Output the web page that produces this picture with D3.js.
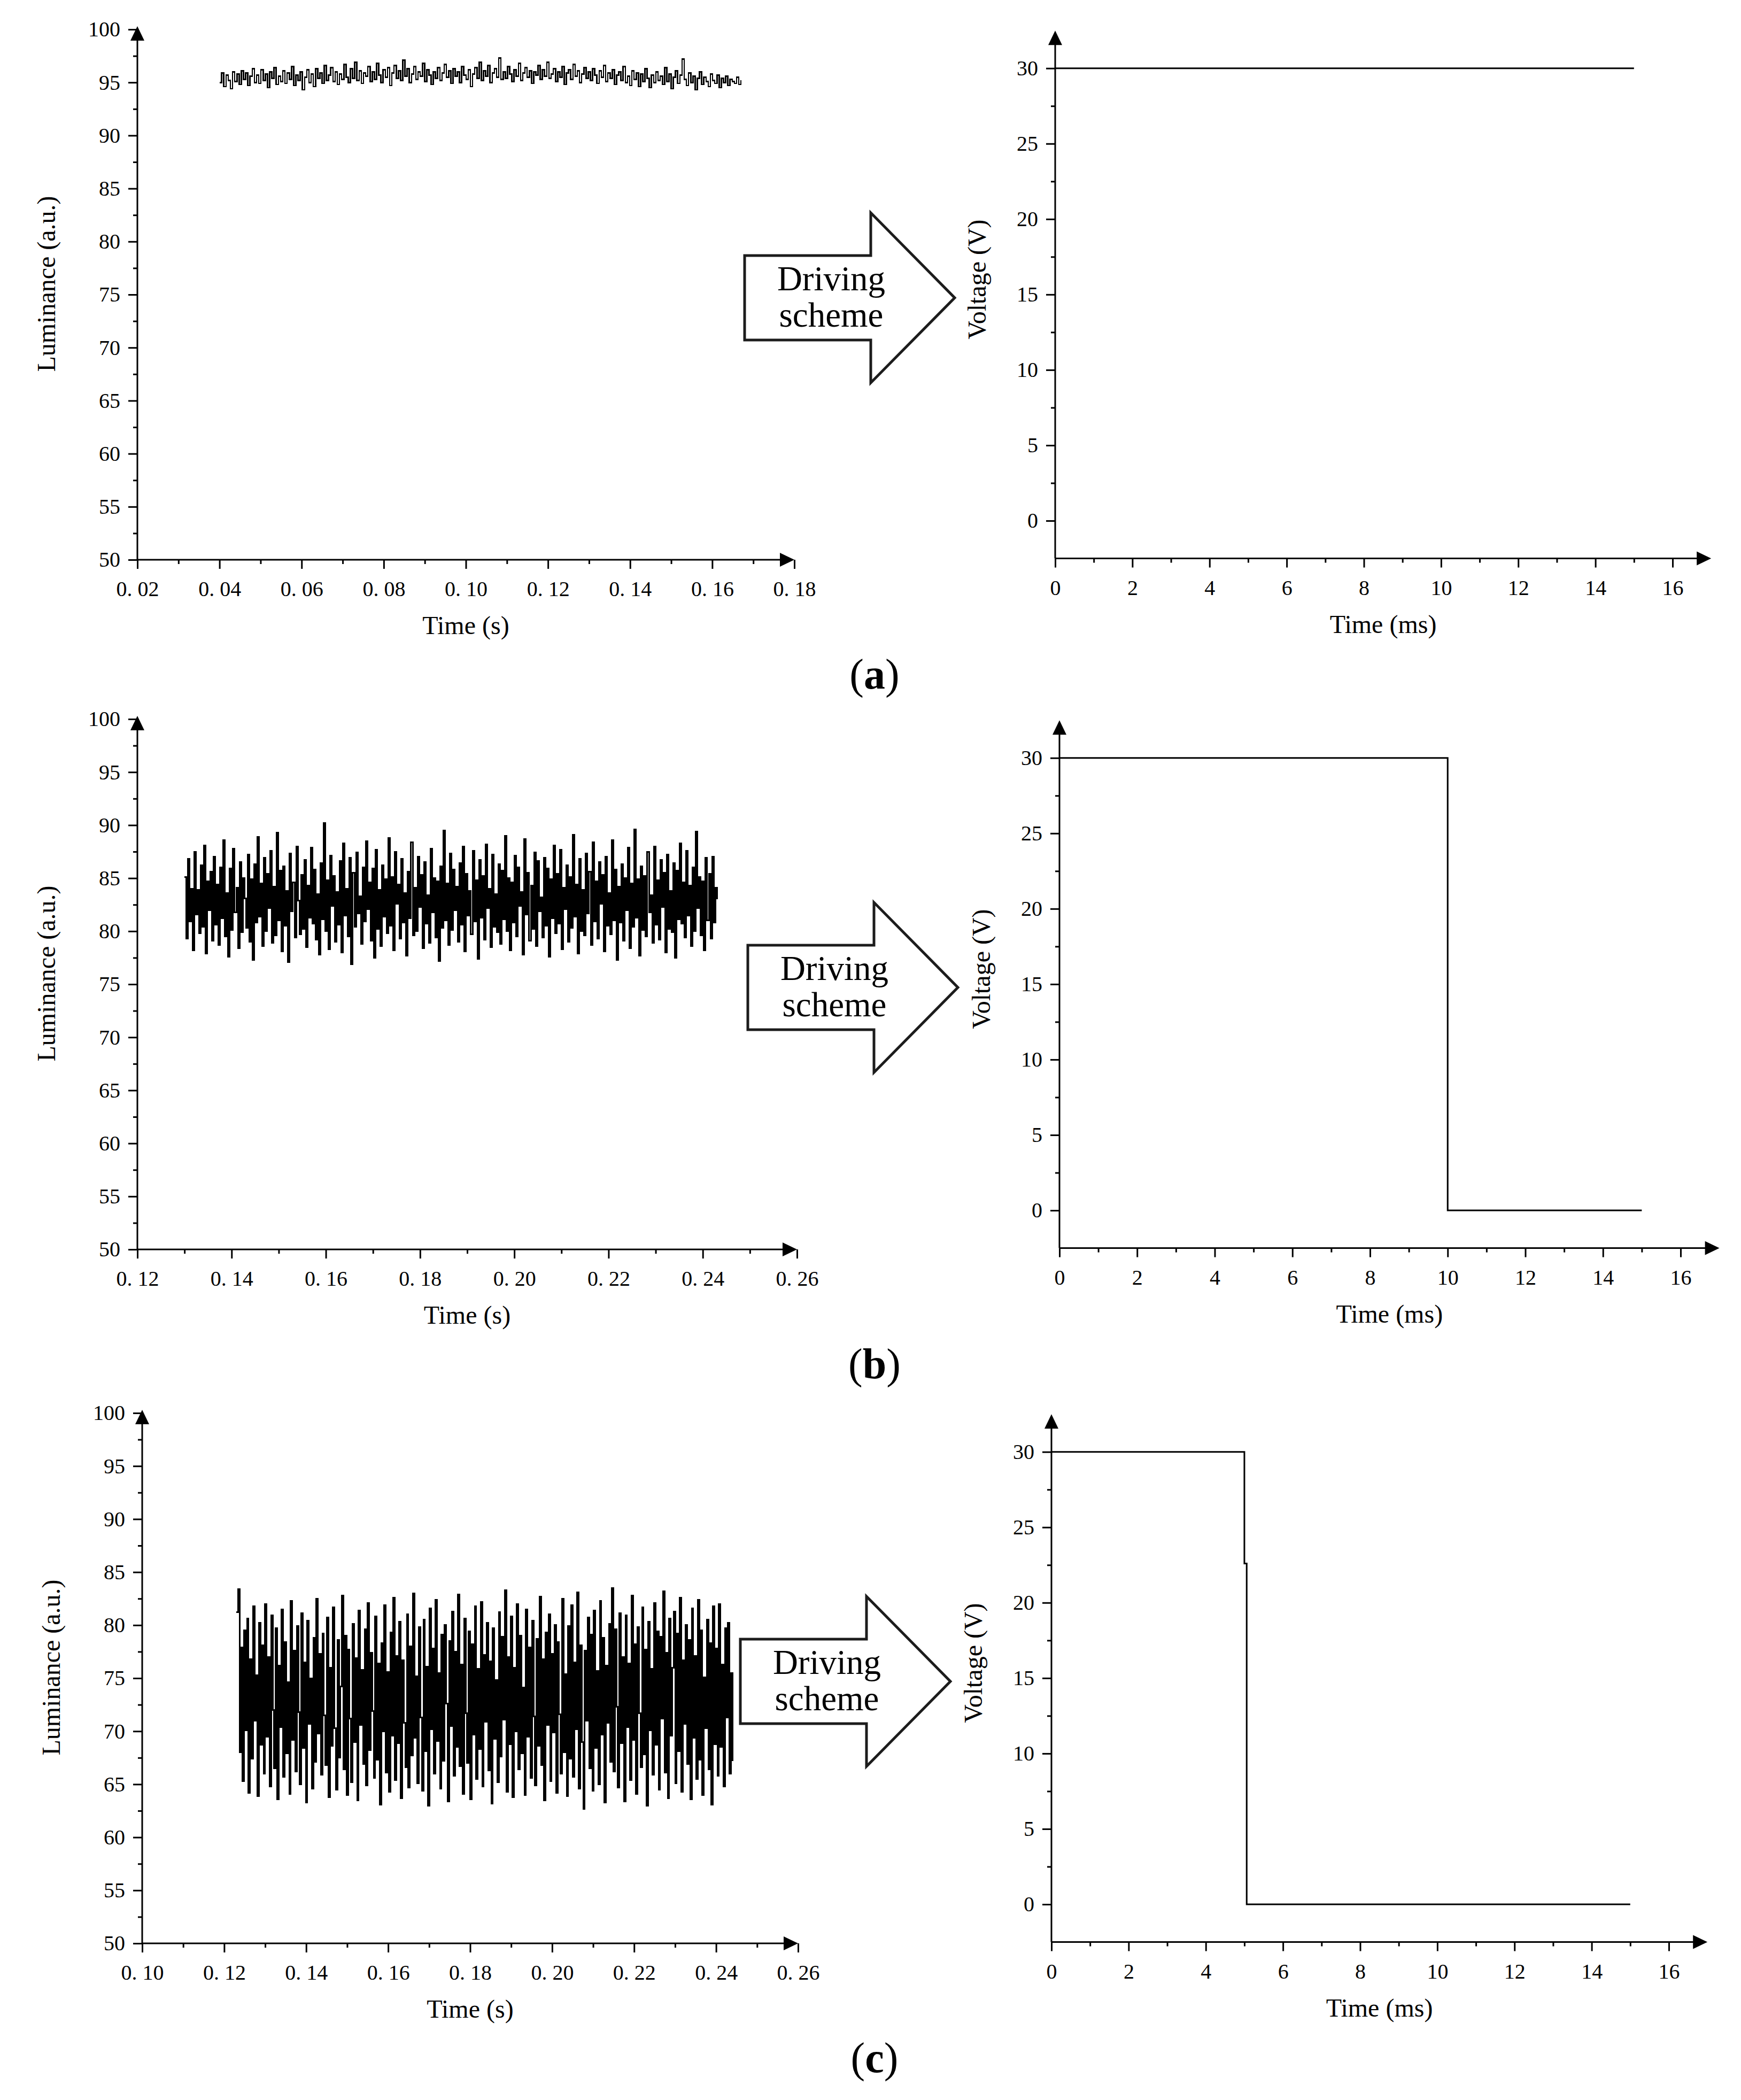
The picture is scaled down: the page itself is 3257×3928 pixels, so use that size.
<!DOCTYPE html>
<html lang="en">
<head>
<meta charset="UTF-8">
<script src="https://cdn.jsdelivr.net/npm/d3@7"></script>
<title>Luminance and driving scheme</title>
<style>
  body { margin: 0; background: #fff; }
  text { font-family: "Liberation Serif", "Times New Roman", serif; fill: #000; }
</style>
</head>
<body>
<svg width="3257" height="3928"></svg>
<script>
// ---- data ----
// luminance samples (a.u.), evenly spaced between the first and last sample time
var lumA = [
  95.0,95.9,94.6,95.7,95.2,94.4,96.0,95.1,95.8,94.8, 96.1,95.3,95.9,94.7,95.6,96.3,95.0,95.7,94.9,96.2,
  95.2,95.8,94.5,96.0,95.4,96.4,94.8,95.6,95.1,96.1, 94.9,95.9,95.3,96.5,94.7,95.7,95.2,96.0,94.3,95.5,
  96.2,95.0,95.8,94.6,96.3,95.4,95.9,94.9,96.6,95.2, 95.7,96.4,95.1,96.0,94.8,95.8,95.3,96.7,95.5,95.0,
  96.3,95.4,96.9,95.2,96.1,94.9,95.9,95.6,96.5,95.1, 96.0,95.3,96.8,95.7,95.0,96.2,95.5,96.4,94.7,95.9,
  96.6,95.4,96.1,95.2,97.1,95.6,96.3,95.0,95.8,96.5, 95.3,96.0,95.6,96.8,95.1,96.2,95.7,94.8,96.0,95.4,
  96.4,95.2,95.9,96.7,95.5,96.1,94.9,96.3,95.6,96.0, 95.0,96.5,95.7,95.3,96.2,94.6,95.8,96.4,95.4,96.9,
  95.2,96.1,95.6,96.6,95.0,95.9,96.3,95.5,97.3,95.3, 96.0,95.4,96.5,95.8,95.1,96.2,95.6,96.8,95.2,95.9,
  96.4,95.5,96.1,94.9,96.0,95.7,96.6,95.3,96.2,95.6, 96.9,95.4,95.8,96.3,95.1,96.0,95.5,96.5,94.8,95.9,
  96.2,95.3,96.7,95.6,96.1,95.0,95.8,96.4,95.4,96.0, 95.2,96.3,95.7,94.9,96.1,95.5,96.6,95.1,95.9,95.4,
  96.2,94.8,95.7,96.0,95.2,96.5,95.0,95.6,94.7,96.1, 95.3,95.9,94.6,95.8,95.1,96.3,95.4,94.5,95.7,95.0,
  96.0,95.2,95.6,94.8,96.4,95.1,95.8,94.4,95.5,96.1, 94.9,95.7,97.2,95.3,94.7,95.9,95.0,95.6,94.3,95.4,
  96.0,94.8,95.5,95.1,94.6,95.8,95.2,94.9,95.7,94.5, 95.4,95.0,95.6,94.7,95.3,95.1,94.9,95.5,94.8,95.2
];
var lumB = [
  85.1,79.3,86.8,80.9,84.0,78.2,87.5,81.6,83.9,79.8, 86.2,80.4,88.1,77.9,84.7,82.0,85.6,79.1,87.0,80.6,
  84.4,78.7,86.0,81.2,88.6,79.5,83.6,77.6,85.9,80.1, 87.8,81.8,84.1,78.4,86.5,79.9,85.0,83.1,80.3,87.2,
  79.0,84.9,77.3,86.3,80.8,88.9,81.4,84.5,78.6,86.9, 80.0,85.4,82.2,87.6,78.9,84.2,79.6,89.3,81.0,85.7,
  78.1,86.1,80.5,83.8,77.1,87.3,81.9,84.6,79.4,88.0, 82.9,79.7,85.3,80.2,86.7,78.5,84.3,81.3,87.9,80.7,
  85.8,79.2,83.5,77.8,86.4,81.1,90.2,80.0,84.8,78.3, 87.1,82.4,85.2,79.0,83.7,80.6,86.6,78.0,88.3,81.5,
  84.0,79.5,86.9,76.9,85.5,80.4,87.4,81.7,83.3,78.8, 86.0,80.9,88.5,82.1,84.6,79.1,85.9,77.5,87.7,80.2,
  83.9,78.6,86.2,81.4,84.9,79.8,88.8,80.5,85.1,78.2, 87.5,82.6,84.4,79.3,86.8,80.8,83.6,77.7,85.6,81.2,
  88.4,79.6,84.1,80.0,87.0,82.3,85.3,78.4,86.5,80.7, 83.4,78.9,87.8,81.8,85.0,79.4,84.7,77.2,86.1,80.3,
  89.5,81.0,84.5,78.7,87.3,80.1,85.8,82.0,84.2,79.0, 86.4,80.6,88.0,78.1,85.4,81.5,83.8,79.7,87.6,80.9,
  84.8,77.4,86.7,81.3,85.2,79.2,88.2,82.2,84.0,78.5, 87.2,80.4,83.5,79.9,86.3,78.8,85.7,81.1,89.0,80.0,
  85.0,78.2,84.6,80.8,87.1,79.5,86.0,82.4,83.7,77.8, 88.7,81.6,85.5,79.1,84.3,80.2,87.4,78.6,86.6,81.9,
  83.2,79.4,86.9,80.5,85.9,77.6,84.9,81.2,88.1,79.8, 85.4,80.7,87.7,78.3,84.1,82.1,86.2,79.0,85.1,80.3,
  89.1,81.4,84.4,77.9,86.8,80.0,83.9,79.6,87.3,81.7, 85.6,78.7,88.4,80.9,84.7,79.3,86.5,82.6,85.3,78.1,
  87.0,80.5,83.6,79.7,88.6,81.0,85.8,77.3,84.2,80.8, 86.3,79.1,85.0,82.0,87.9,78.4,84.5,80.4,89.6,81.3,
  84.9,77.7,86.1,80.1,85.2,79.5,87.5,81.8,83.4,78.9, 88.0,80.6,84.8,79.2,86.7,82.3,85.5,78.0,87.2,80.2,
  83.8,79.9,86.4,77.5,85.7,81.1,88.3,80.7,84.6,79.4, 87.6,81.5,84.3,78.6,86.0,80.0,89.4,82.2,85.1,79.6,
  84.7,78.2,86.9,81.0,85.4,79.3,87.0,80.8,84.1,83.0
];
var lumC = [
  81.2,83.4,68.0,77.9,65.3,79.5,70.1,80.6,64.2,76.8, 67.4,81.8,71.0,75.3,63.9,80.2,68.7,78.1,66.0,82.0,
  69.5,77.0,64.8,80.9,72.0,66.5,79.7,63.6,76.2,70.4, 81.5,65.7,78.4,67.9,74.6,64.1,82.3,69.2,77.6,66.2,
  79.9,71.8,65.0,81.1,68.4,76.5,63.3,80.4,70.7,75.0, 64.6,78.8,67.1,82.5,69.8,77.3,65.9,79.2,71.5,66.8,
  80.7,63.8,76.0,68.6,81.7,70.3,64.5,78.6,67.5,74.2, 82.8,66.4,79.0,64.0,77.7,71.2,65.2,80.1,69.0,76.9,
  63.5,81.4,70.6,75.8,66.9,79.6,64.9,82.1,68.2,77.4, 71.9,65.6,80.8,67.3,76.4,63.1,78.3,70.0,81.9,66.1,
  75.6,64.3,79.3,69.6,82.6,65.4,77.1,68.9,80.3,63.7, 76.7,70.8,66.6,81.0,64.7,78.0,67.7,83.0,69.4,75.2,
  65.1,79.8,71.3,64.4,80.5,68.1,76.1,63.0,81.6,70.2, 77.8,66.0,82.4,69.1,75.5,64.6,79.1,67.2,80.0,72.6,
  63.4,78.5,70.5,81.3,65.8,77.5,68.5,82.9,66.7,76.3, 64.1,80.6,71.7,67.0,79.4,63.6,78.2,69.7,81.8,65.5,
  75.9,68.3,82.2,64.8,77.2,70.9,80.2,66.3,76.6,63.2, 79.7,69.3,74.8,65.2,81.2,67.6,78.9,71.1,83.3,64.3,
  77.0,68.8,80.8,63.8,76.0,70.0,82.0,66.4,79.0,67.9, 74.1,64.0,81.5,69.5,77.9,65.6,80.4,71.4,64.9,78.7,
  68.6,82.7,66.8,76.8,63.5,79.3,70.6,81.0,65.3,77.3, 69.9,80.0,64.2,78.4,71.6,66.0,82.5,68.0,75.4,63.9,
  79.9,67.4,81.9,65.7,76.5,70.2,83.1,64.6,78.1,69.0, 62.7,77.6,71.0,80.7,66.5,79.1,64.4,81.4,68.4,75.7,
  65.0,82.3,69.7,78.8,63.3,76.2,70.8,80.1,67.1,83.5, 66.2,79.6,72.3,64.7,81.1,68.9,77.0,63.4,80.9,70.4,
  76.4,65.4,82.8,69.2,78.2,64.1,79.8,71.7,66.6,81.7, 67.8,77.7,63.0,80.3,70.1,75.9,65.9,82.1,68.7,79.4,
  64.5,78.9,71.2,83.2,66.1,77.4,63.7,80.6,69.6,76.0, 81.3,65.1,79.2,68.1,82.6,64.3,76.7,70.7,80.0,66.9,
  78.6,63.6,81.6,69.4,77.1,65.5,82.4,67.3,79.5,64.0, 75.1,70.3,80.5,66.4,78.3,63.1,81.8,68.8,77.8,65.8,
  82.0,68.5,76.3,64.8,79.7,71.3,80.2,66.0,75.5,67.2
];
// first and last sample time of each trace (s)
var lumSpanA = [0.040, 0.167];
var lumSpanB = [0.130, 0.243];
var lumSpanC = [0.123, 0.244];

// driving voltage: [time (ms), voltage (V)]
var voltA = [[0, 30], [15, 30]];
var voltB = [[0, 30], [10, 30], [10, 0], [15, 0]];
var voltC = [[0, 30], [5, 30], [5, 22.6], [5.06, 22.6], [5.06, 0], [15, 0]];

// tick labels
var timeTicksA = [0.02, 0.04, 0.06, 0.08, 0.10, 0.12, 0.14, 0.16, 0.18];
var timeTicksB = [0.12, 0.14, 0.16, 0.18, 0.20, 0.22, 0.24, 0.26];
var timeTicksC = [0.10, 0.12, 0.14, 0.16, 0.18, 0.20, 0.22, 0.24, 0.26];
var lumTicks = [50, 55, 60, 65, 70, 75, 80, 85, 90, 95, 100];
var voltTicks = [0, 5, 10, 15, 20, 25, 30];
var msTicks = [0, 2, 4, 6, 8, 10, 12, 14, 16];

// ---- layout (pixels) ----
var panels = [
  { letter: "a", lum: lumA, span: lumSpanA, ticks: timeTicksA, volt: voltA,
    dy: 0, lx: [257, 1486], rx: [1974, 3129], arrowX: 1393, lw: 2.6 },
  { letter: "b", lum: lumB, span: lumSpanB, ticks: timeTicksB, volt: voltB,
    dy: 1290, lx: [257, 1491], rx: [1982, 3144], arrowX: 1399, lw: 3 },
  { letter: "c", lum: lumC, span: lumSpanC, ticks: timeTicksC, volt: voltC,
    dy: 2588, lx: [266, 1493], rx: [1967, 3122], arrowX: 1385, lw: 3 }
];

var svg = d3.select("svg");
var tickFont = 40, titleFont = 48;
var majorLen = 17, minorLen = 8;

function tri(g, x, y, dir) {
  // filled arrow head, tip at (x, y)
  var p = dir === "right"
    ? [[x, y], [x - 27, y - 13], [x - 27, y + 13]]
    : [[x, y], [x - 13, y + 27], [x + 13, y + 27]];
  g.append("path").attr("d", "M" + p.join("L") + "Z").attr("fill", "#000");
}

function mids(arr) {
  var out = [];
  for (var i = 0; i < arr.length - 1; i++) out.push((arr[i] + arr[i + 1]) / 2);
  return out;
}

function styleAxis(sel) {
  sel.select(".domain").remove();
  sel.selectAll("line").attr("stroke", "#000").attr("stroke-width", 3);
  sel.selectAll("text").attr("font-size", tickFont)
    .attr("font-family", "'Liberation Serif', serif").attr("fill", "#000");
}

panels.forEach(function(p) {
  var g = svg.append("g");

  // ---------- left: luminance vs time ----------
  var t0 = p.ticks[0], t1 = p.ticks[p.ticks.length - 1];
  var x = d3.scaleLinear().domain([t0, t1]).range(p.lx);
  var y = d3.scaleLinear().domain([50, 100]).range([1047 + p.dy, 55 + p.dy]);
  var fmt = function(d) { return d3.format(".2f")(d).replace(".", ".\u00a0"); };

  g.append("g").attr("transform", "translate(0," + y(50) + ")")
    .call(d3.axisBottom(x).tickValues(mids(p.ticks)).tickSize(minorLen).tickFormat(""))
    .call(styleAxis);
  g.append("g").attr("transform", "translate(0," + y(50) + ")")
    .call(d3.axisBottom(x).tickValues(p.ticks).tickSize(majorLen).tickPadding(23).tickFormat(fmt))
    .call(styleAxis);
  g.append("g").attr("transform", "translate(" + p.lx[0] + ",0)")
    .call(d3.axisLeft(y).tickValues(mids(lumTicks)).tickSize(minorLen).tickFormat(""))
    .call(styleAxis);
  g.append("g").attr("transform", "translate(" + p.lx[0] + ",0)")
    .call(d3.axisLeft(y).tickValues(lumTicks).tickSize(majorLen).tickPadding(15))
    .call(styleAxis);

  g.append("line").attr("x1", p.lx[0]).attr("x2", x(t1) - 4)
    .attr("y1", y(50)).attr("y2", y(50)).attr("stroke", "#000").attr("stroke-width", 3);
  g.append("line").attr("x1", p.lx[0]).attr("x2", p.lx[0])
    .attr("y1", y(50)).attr("y2", y(100.3) + 4).attr("stroke", "#000").attr("stroke-width", 3);
  tri(g, x(t1), y(50), "right");
  tri(g, p.lx[0], y(100.3), "up");

  var n = p.lum.length;
  var tScale = d3.scaleLinear().domain([0, n - 1]).range(p.span);
  g.append("path")
    .datum(p.lum)
    .attr("fill", "none").attr("stroke", "#000").attr("stroke-width", p.lw)
    .attr("shape-rendering", "crispEdges")
    .attr("d", d3.line()
      .curve(d3.curveStepAfter)
      .x(function(d, i) { return x(tScale(i)); })
      .y(function(d) { return y(d); }));

  g.append("text")
    .attr("transform", "translate(" + (p.lx[0] - 171) + "," + (531 + p.dy) + ") rotate(-90)")
    .attr("text-anchor", "middle").attr("dy", "0.35em").attr("font-size", titleFont)
    .text("Luminance (a.u.)");
  g.append("text")
    .attr("x", x((t0 + t1) / 2)).attr("y", y(50) + 139)
    .attr("text-anchor", "middle").attr("font-size", titleFont)
    .text("Time (s)");

  // ---------- arrow "Driving scheme" ----------
  var ax = p.arrowX, ay = 557 + p.dy;
  var shape = [[ax, ay - 79], [ax + 236, ay - 79], [ax + 236, ay - 159], [ax + 393, ay],
               [ax + 236, ay + 159], [ax + 236, ay + 79], [ax, ay + 79]];
  g.append("path").attr("d", "M" + shape.join("L") + "Z")
    .attr("fill", "#fff").attr("stroke", "#1c1c1c").attr("stroke-width", 5)
    .attr("stroke-linejoin", "miter");
  g.append("text").attr("x", ax + 162).attr("y", ay - 14)
    .attr("text-anchor", "middle").attr("font-size", 65).text("Driving");
  g.append("text").attr("x", ax + 162).attr("y", ay + 54)
    .attr("text-anchor", "middle").attr("font-size", 65).text("scheme");

  // ---------- right: voltage vs time ----------
  var xr = d3.scaleLinear().domain([0, 16]).range(p.rx);
  var yr = d3.scaleLinear().domain([0, 30]).range([974 + p.dy, 127.7 + p.dy]);
  var yBase = yr(-2.5);

  g.append("g").attr("transform", "translate(0," + yBase + ")")
    .call(d3.axisBottom(xr).tickValues(mids(msTicks)).tickSize(minorLen).tickFormat(""))
    .call(styleAxis);
  g.append("g").attr("transform", "translate(0," + yBase + ")")
    .call(d3.axisBottom(xr).tickValues(msTicks).tickSize(majorLen).tickPadding(23))
    .call(styleAxis);
  g.append("g").attr("transform", "translate(" + p.rx[0] + ",0)")
    .call(d3.axisLeft(yr).tickValues(mids(voltTicks)).tickSize(minorLen).tickFormat(""))
    .call(styleAxis);
  g.append("g").attr("transform", "translate(" + p.rx[0] + ",0)")
    .call(d3.axisLeft(yr).tickValues(voltTicks).tickSize(majorLen).tickPadding(15))
    .call(styleAxis);

  g.append("line").attr("x1", p.rx[0]).attr("x2", xr(17) - 4)
    .attr("y1", yBase).attr("y2", yBase).attr("stroke", "#000").attr("stroke-width", 3);
  g.append("line").attr("x1", p.rx[0]).attr("x2", p.rx[0])
    .attr("y1", yBase).attr("y2", yr(32.5) + 4).attr("stroke", "#000").attr("stroke-width", 3);
  tri(g, xr(17), yBase, "right");
  tri(g, p.rx[0], yr(32.5), "up");

  g.append("path")
    .datum(p.volt)
    .attr("fill", "none").attr("stroke", "#000").attr("stroke-width", 3)
    .attr("d", d3.line()
      .x(function(d) { return xr(d[0]); })
      .y(function(d) { return yr(d[1]); }));

  g.append("text")
    .attr("transform", "translate(" + (p.rx[0] - 147) + "," + yr(16) + ") rotate(-90)")
    .attr("text-anchor", "middle").attr("dy", "0.35em").attr("font-size", titleFont)
    .text("Voltage (V)");
  g.append("text")
    .attr("x", xr(8.5)).attr("y", yBase + 139)
    .attr("text-anchor", "middle").attr("font-size", titleFont)
    .text("Time (ms)");

  // ---------- panel letter ----------
  var lab = g.append("text").attr("x", 1636).attr("y", 1288 + p.dy)
    .attr("text-anchor", "middle").attr("font-size", 80);
  lab.append("tspan").text("(");
  lab.append("tspan").attr("font-weight", "bold").text(p.letter);
  lab.append("tspan").text(")");
});
</script>
</body>
</html>
